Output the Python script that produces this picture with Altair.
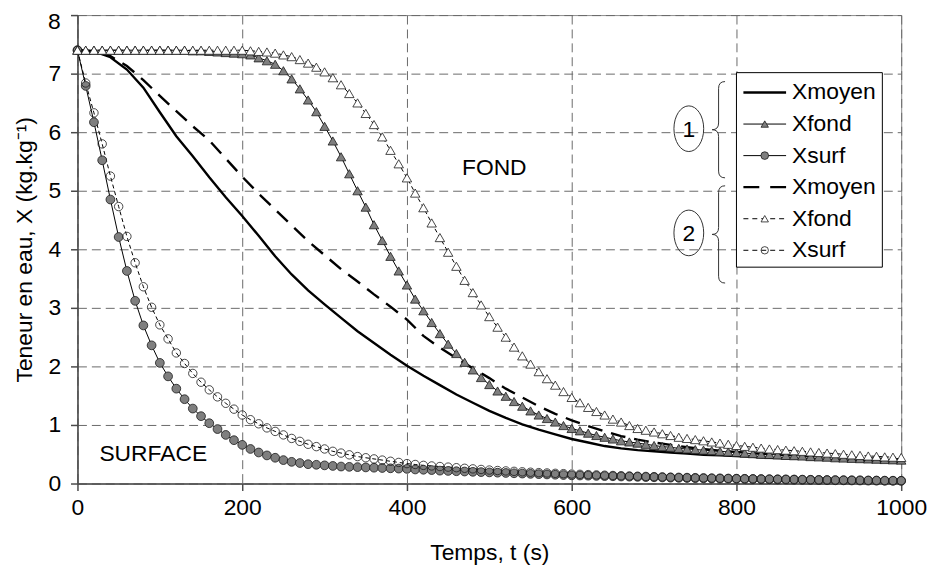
import altair as alt
import pandas as pd

FONT = "Liberation Sans"

# ---- data (t in s, X in kg/kg) ----
t10 = list(range(0, 1001, 10))
t20 = list(range(0, 1001, 20))

xfond1 = [7.40, 7.40, 7.40, 7.40, 7.40, 7.40, 7.40, 7.40, 7.40, 7.40,
          7.40, 7.40, 7.40, 7.40, 7.39, 7.39, 7.38, 7.37, 7.36, 7.35,
          7.34, 7.32, 7.27, 7.22, 7.16, 7.05, 6.91, 6.74, 6.55, 6.35,
          6.10, 5.85, 5.58, 5.29, 5.00, 4.72, 4.42, 4.15, 3.88, 3.63,
          3.39, 3.15, 2.95, 2.75, 2.56, 2.38, 2.22, 2.07, 1.94, 1.81,
          1.69, 1.58, 1.49, 1.40, 1.32, 1.24, 1.17, 1.11, 1.05, 0.99,
          0.94, 0.90, 0.86, 0.82, 0.79, 0.76, 0.73, 0.71, 0.69, 0.67,
          0.65, 0.63, 0.62, 0.60, 0.59, 0.58, 0.57, 0.56, 0.55, 0.54,
          0.53, 0.52, 0.51, 0.50, 0.495, 0.49, 0.48, 0.475, 0.47, 0.46,
          0.455, 0.45, 0.44, 0.435, 0.43, 0.425, 0.42, 0.415, 0.41, 0.405,
          0.40]

xfond2 = [7.40, 7.40, 7.40, 7.40, 7.40, 7.40, 7.40, 7.40, 7.40, 7.40,
          7.40, 7.40, 7.40, 7.40, 7.40, 7.40, 7.40, 7.40, 7.40, 7.40,
          7.40, 7.39, 7.38, 7.37, 7.35, 7.32, 7.29, 7.24, 7.18, 7.11,
          7.03, 6.93, 6.81, 6.66, 6.50, 6.32, 6.13, 5.92, 5.69, 5.46,
          5.22, 4.96, 4.71, 4.45, 4.20, 3.95, 3.71, 3.47, 3.26, 3.05,
          2.85, 2.67, 2.50, 2.33, 2.18, 2.04, 1.91, 1.79, 1.68, 1.57,
          1.47, 1.38, 1.30, 1.23, 1.17, 1.10, 1.05, 0.99, 0.94, 0.91,
          0.88, 0.85, 0.82, 0.79, 0.77, 0.75, 0.73, 0.71, 0.69, 0.67,
          0.65, 0.635, 0.62, 0.605, 0.59, 0.58, 0.57, 0.56, 0.55, 0.54,
          0.53, 0.52, 0.51, 0.50, 0.49, 0.48, 0.47, 0.465, 0.455, 0.45,
          0.445]

xsurf1 = [7.40, 6.79, 6.17, 5.52, 4.85, 4.21, 3.63, 3.12, 2.70, 2.36,
          2.06, 1.83, 1.62, 1.44, 1.28, 1.15, 1.03, 0.93, 0.83, 0.74,
          0.66, 0.59, 0.53, 0.48, 0.44, 0.40, 0.37, 0.35, 0.33, 0.32,
          0.31, 0.30, 0.29, 0.285, 0.28, 0.275, 0.27, 0.265, 0.26, 0.255,
          0.25, 0.24, 0.235, 0.23, 0.22, 0.215, 0.21, 0.205, 0.20, 0.195,
          0.19, 0.185, 0.18, 0.175, 0.17, 0.165, 0.16, 0.155, 0.15, 0.145,
          0.14, 0.137, 0.134, 0.13, 0.127, 0.124, 0.12, 0.117, 0.114, 0.11,
          0.107, 0.104, 0.10, 0.097, 0.094, 0.091, 0.088, 0.085, 0.083, 0.081,
          0.079, 0.077, 0.075, 0.073, 0.071, 0.069, 0.067, 0.065, 0.063, 0.061,
          0.059, 0.057, 0.055, 0.054, 0.052, 0.051, 0.049, 0.048, 0.046, 0.045,
          0.044]

xsurf2 = [7.40, 6.84, 6.33, 5.80, 5.25, 4.73, 4.22, 3.77, 3.36, 3.01,
          2.71, 2.47, 2.23, 2.05, 1.88, 1.73, 1.60, 1.48, 1.37, 1.27,
          1.17, 1.09, 1.02, 0.95, 0.89, 0.83, 0.77, 0.72, 0.67, 0.63,
          0.59, 0.55, 0.52, 0.49, 0.46, 0.44, 0.42, 0.40, 0.38, 0.36,
          0.34, 0.325, 0.31, 0.30, 0.29, 0.28, 0.27, 0.26, 0.25, 0.24,
          0.23, 0.222, 0.215, 0.208, 0.20, 0.193, 0.186, 0.18, 0.174, 0.168,
          0.162, 0.157, 0.152, 0.147, 0.142, 0.137, 0.133, 0.129, 0.125, 0.121,
          0.117, 0.113, 0.109, 0.106, 0.103, 0.10, 0.097, 0.094, 0.091, 0.088,
          0.086, 0.083, 0.081, 0.079, 0.077, 0.075, 0.073, 0.071, 0.069, 0.067,
          0.065, 0.063, 0.061, 0.06, 0.058, 0.057, 0.055, 0.054, 0.052, 0.051,
          0.05]

xmoy1 = [7.40, 7.38, 7.28, 7.07, 6.76, 6.34, 5.93, 5.59, 5.23, 4.89,
         4.57, 4.23, 3.88, 3.57, 3.30, 3.06, 2.83, 2.60, 2.40, 2.20,
         2.01, 1.84, 1.68, 1.52, 1.38, 1.24, 1.12, 1.01, 0.92, 0.84,
         0.76, 0.70, 0.64, 0.60, 0.57, 0.55, 0.53, 0.51, 0.49, 0.48,
         0.47, 0.455, 0.44, 0.43, 0.42, 0.41, 0.40, 0.39, 0.38, 0.37,
         0.36]

xmoy2 = [7.40, 7.38, 7.30, 7.13, 6.89, 6.62, 6.36, 6.10, 5.86, 5.55,
         5.24, 4.95, 4.68, 4.41, 4.14, 3.90, 3.66, 3.45, 3.23, 3.02,
         2.80, 2.52, 2.32, 2.14, 1.97, 1.80, 1.62, 1.47, 1.32, 1.19,
         1.08, 0.98, 0.89, 0.81, 0.75, 0.70, 0.66, 0.62, 0.59, 0.56,
         0.54, 0.52, 0.50, 0.485, 0.47, 0.46, 0.45, 0.44, 0.43, 0.42,
         0.41]

x_ticks = [0, 200, 400, 600, 800, 1000]
y_ticks = [0, 1, 2, 3, 4, 5, 6, 7, 8]
legend_labels = ["Xmoyen", "Xfond", "Xsurf", "Xmoyen", "Xfond", "Xsurf"]
group_labels = ["1", "2"]

df10 = pd.DataFrame({"t": t10, "xfond1": xfond1, "xfond2": xfond2,
                     "xsurf1": xsurf1, "xsurf2": xsurf2})
df20 = pd.DataFrame({"t": t20, "xmoy1": xmoy1, "xmoy2": xmoy2})
one = pd.DataFrame({"k": [0]})

GRID = "#6a6a6a"
AXC = "#4a4a4a"
TOP_Y = max(y_ticks)

x_axis = alt.Axis(values=x_ticks, title="Temps, t (s)", format="d",
                  grid=True, gridDash=[9, 5], gridColor=GRID, gridWidth=1,
                  domainColor=AXC, domainWidth=1.5, tickColor=AXC, tickWidth=1.5,
                  tickSize=7, labelFont=FONT, labelFontSize=23, labelColor="black",
                  labelPadding=6, labelFlush=False, labelOverlap=False,
                  titleFont=FONT, titleFontSize=23, titleFontWeight="normal",
                  titleColor="black", titleX=415, titleY=77, titleAlign="center",
                  titleBaseline="alphabetic")
# the top label ("8") is drawn as a separate text mark, slightly lowered so it is not cut
y_axis = alt.Axis(values=y_ticks, title="Teneur en eau, X (kg.kg\u207b\u00b9)", format="d",
                  labelExpr=f"datum.value == {TOP_Y} ? '' : datum.label",
                  grid=True, gridDash=[9, 5], gridColor=GRID, gridWidth=1,
                  domainColor=AXC, domainWidth=1.5, tickColor=AXC, tickWidth=1.5,
                  tickSize=7, labelFont=FONT, labelFontSize=23, labelColor="black",
                  labelPadding=10, labelFlush=False,
                  titleFont=FONT, titleFontSize=23, titleFontWeight="normal",
                  titleColor="black", titleX=-53, titleY=236, titleAngle=270,
                  titleAlign="center", titleBaseline="middle")

xs = alt.Scale(domain=[0, 1000], nice=False, zero=False)
ys = alt.Scale(domain=[0, 8], nice=False)


def X():
    return alt.X("t:Q", scale=xs, axis=x_axis)


def Y(field):
    return alt.Y(f"{field}:Q", scale=ys, axis=y_axis)


layers = []
# average curves
layers.append(alt.Chart(df20).mark_line(color="black", strokeWidth=2.4)
              .encode(X(), Y("xmoy1")))
layers.append(alt.Chart(df20).mark_line(color="black", strokeWidth=2.4, strokeDash=[15, 9])
              .encode(X(), Y("xmoy2")))
# connecting lines of marker series
for f, dash in [("xfond1", None), ("xsurf1", None), ("xfond2", [4, 3]), ("xsurf2", [4, 3])]:
    kw = dict(color="black", strokeWidth=1)
    if dash:
        kw["strokeDash"] = dash
    layers.append(alt.Chart(df10).mark_line(**kw).encode(X(), Y(f)))
# markers
layers.append(alt.Chart(df10).mark_point(shape="circle", filled=True, fill="#7f7f7f",
                                         stroke="#1a1a1a", strokeWidth=0.8, size=78, opacity=1)
              .encode(X(), Y("xsurf1")))
layers.append(alt.Chart(df10).mark_point(shape="circle", filled=False,
                                         stroke="#1a1a1a", strokeWidth=0.8, size=72, opacity=1)
              .encode(X(), Y("xsurf2")))
layers.append(alt.Chart(df10).mark_point(shape="triangle-up", filled=True, fill="#7f7f7f",
                                         stroke="#1a1a1a", strokeWidth=0.8, size=90, opacity=1)
              .encode(X(), Y("xfond1")))
layers.append(alt.Chart(df10).mark_point(shape="triangle-up", filled=True, fill="white",
                                         stroke="#1a1a1a", strokeWidth=0.8, size=90, opacity=1)
              .encode(X(), Y("xfond2")))

# top y tick label
layers.append(alt.Chart(one).mark_text(font=FONT, fontSize=23, color="black",
                                       align="right", baseline="top")
              .encode(x=alt.value(-17), y=alt.value(-3.5), text=alt.value(str(TOP_Y))))

# region labels (data coordinates)
layers.append(alt.Chart(one).mark_text(font=FONT, fontSize=23, color="black",
                                       align="center", baseline="middle")
              .encode(x=alt.datum(506), y=alt.datum(5.39), text=alt.value("FOND")))
layers.append(alt.Chart(one).mark_text(font=FONT, fontSize=23, color="black",
                                       align="center", baseline="middle")
              .encode(x=alt.datum(92), y=alt.datum(0.51), text=alt.value("SURFACE")))

# ---- legend (pixel positions inside the plot area) ----
LX0, LX1 = 664, 811
LY0, LY1 = 58, 254
row_y = [78 + i * 31.8 for i in range(6)]
sx0, sx1, smid, tx = 671, 714, 692.5, 720

layers.append(alt.Chart(one).mark_rect(fill="white", stroke="black", strokeWidth=1)
              .encode(x=alt.value(LX0), x2=alt.value(LX1), y=alt.value(LY0), y2=alt.value(LY1)))

sample_styles = [
    dict(strokeWidth=2.4),
    dict(strokeWidth=1),
    dict(strokeWidth=1),
    dict(strokeWidth=2.4, strokeDash=[16, 11]),
    dict(strokeWidth=1, strokeDash=[5, 4]),
    dict(strokeWidth=1, strokeDash=[5, 4]),
]
marker_styles = [
    None,
    dict(shape="triangle-up", filled=True, fill="#7f7f7f", size=55),
    dict(shape="circle", filled=True, fill="#7f7f7f", size=60),
    None,
    dict(shape="triangle-up", filled=True, fill="white", size=55),
    dict(shape="circle", filled=False, size=55),
]
for i, lab in enumerate(legend_labels):
    ry = row_y[i]
    layers.append(alt.Chart(one).mark_rule(color="black", **sample_styles[i])
                  .encode(x=alt.value(sx0), x2=alt.value(sx1), y=alt.value(ry)))
    ms = marker_styles[i]
    if ms:
        layers.append(alt.Chart(one).mark_point(stroke="#1a1a1a", strokeWidth=0.8, opacity=1, **ms)
                      .encode(x=alt.value(smid), y=alt.value(ry)))
    layers.append(alt.Chart(one).mark_text(font=FONT, fontSize=23, color="black",
                                           align="left", baseline="middle")
                  .encode(x=alt.value(tx), y=alt.value(ry), text=alt.value(lab)))

# braces and circled group numbers
BRACE = "M 0.134 -1 Q 0 -1 0 -0.86 L 0 -0.14 Q 0 0 -0.134 0 Q 0 0 0 0.14 L 0 0.86 Q 0 1 0.134 1"
ELLIPSE = ("M 0 -1 C 0.36 -1 0.652 -0.552 0.652 0 C 0.652 0.552 0.36 1 0 1 "
           "C -0.36 1 -0.652 0.552 -0.652 0 C -0.652 -0.552 -0.36 -1 0 -1 Z")
brace_y = [115.5, 221]
brace_h = [97, 98]
circ_y = [114.5, 219.5]
for j, g in enumerate(group_labels):
    layers.append(alt.Chart(one).mark_point(shape=BRACE, filled=False, stroke="#333333",
                                            strokeWidth=1, opacity=1)
                  .encode(x=alt.value(646), y=alt.value(brace_y[j]),
                          size=alt.value(brace_h[j] ** 2)))
    layers.append(alt.Chart(one).mark_point(shape=ELLIPSE, filled=False, stroke="#333333",
                                            strokeWidth=1, opacity=1)
                  .encode(x=alt.value(616), y=alt.value(circ_y[j]), size=alt.value(46 ** 2)))
    layers.append(alt.Chart(one).mark_text(font=FONT, fontSize=23, color="black",
                                           align="center", baseline="middle")
                  .encode(x=alt.value(616), y=alt.value(circ_y[j] + 1), text=alt.value(g)))

chart = alt.layer(*layers).properties(
    width=830, height=472,
    autosize=alt.AutoSizeParams(type="none"),
    padding={"left": 70, "top": 5, "right": 27, "bottom": 84},
    background="white",
).configure_view(stroke="#8c8c8c", strokeWidth=1)

chart.save("out.html", embed_options={"renderer": "svg", "actions": False})
